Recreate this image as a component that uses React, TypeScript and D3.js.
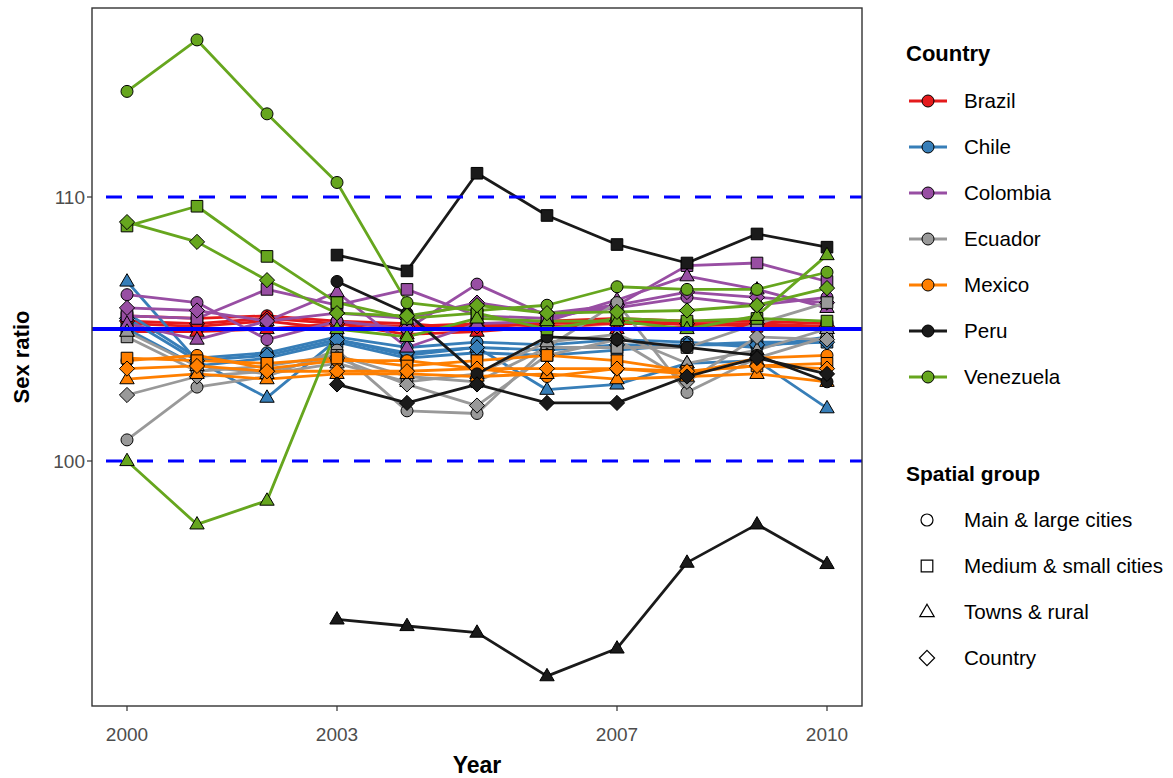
import React from 'react';
import * as d3 from 'd3';

const years = [2000, 2001, 2002, 2003, 2004, 2005, 2006, 2007, 2008, 2009, 2010];
const countries = ['Brazil', 'Chile', 'Colombia', 'Ecuador', 'Mexico', 'Peru', 'Venezuela'];
const countryColors = ['#E41A1C', '#377EB8', '#984EA3', '#999999', '#FF7F00', '#1A1A1A', '#66A61E'];
const groups = ['Main & large cities', 'Medium & small cities', 'Towns & rural', 'Country'];
const groupShapes = ['circle', 'square', 'triangle', 'diamond'];
const xTicks = [2000, 2003, 2007, 2010];
const yTicks = [100, 110];
const dashedRefs = [100, 110];
const solidRef = 105;

type V = number | null;
const N = null;

// Brazil
const brazilMain: V[] = [105.5, 105.4, 105.5, 105.3, 105.2, 105.0, 105.3, 105.4, 105.3, 105.3, 105.2];
const brazilMedium: V[] = [105.2, 105.1, 105.3, 105.0, 105.1, 105.2, 105.1, 105.2, 105.2, 105.1, 105.1];
const brazilTowns: V[] = [104.9, 104.9, 105.0, 105.2, 104.8, 104.9, 105.1, 105.0, 105.1, 105.2, 105.0];
const brazilCountry: V[] = [105.3, 105.2, 105.4, 105.2, 105.1, 105.1, 105.2, 105.3, 105.2, 105.2, 105.1];
// Chile
const chileMain: V[] = [105.6, 103.9, 104.1, 104.7, 104.3, 104.5, 104.4, 104.6, 104.5, 104.3, 104.7];
const chileMedium: V[] = [105.0, 103.6, 103.9, 104.5, 103.9, 104.1, 104.0, 104.2, 104.4, 104.5, 104.5];
const chileTowns: V[] = [106.8, 103.8, 102.4, 104.6, 104.0, 104.3, 102.7, 102.9, 103.7, 103.8, 102.0];
const chileCountry: V[] = [105.4, 103.8, 104.0, 104.6, 104.1, 104.3, 104.2, 104.4, 104.4, 104.4, 104.5];
// Colombia
const colombiaMain: V[] = [106.3, 106.0, 104.6, 105.3, 105.0, 106.7, 105.5, 105.8, 106.2, 105.9, 106.2];
const colombiaMedium: V[] = [105.5, 105.4, 106.5, 105.9, 106.5, 105.5, 105.4, 105.9, 107.4, 107.5, 106.8];
const colombiaTowns: V[] = [105.2, 104.6, 105.3, 106.4, 104.3, 105.2, 105.3, 106.1, 107.0, 106.5, 105.8];
const colombiaCountry: V[] = [105.8, 105.7, 105.3, 105.6, 105.4, 106.0, 105.6, 105.9, 106.4, 106.2, 106.0];
// Ecuador
const ecuadorMain: V[] = [100.8, 102.8, 103.2, 104.2, 101.9, 101.8, 104.3, 106.0, 102.6, 103.9, 104.7];
const ecuadorMedium: V[] = [104.7, 103.4, 103.6, 104.0, 103.2, 103.0, 104.3, 104.3, 104.3, 105.2, 106.0];
const ecuadorTowns: V[] = [104.9, 103.6, 103.3, 103.7, 103.0, 103.3, 104.5, 104.8, 103.7, 104.2, 105.0];
const ecuadorCountry: V[] = [102.5, 103.2, 103.4, 103.9, 102.9, 102.1, 104.0, 104.6, 103.0, 104.7, 104.6];
// Mexico
const mexicoMain: V[] = [103.8, 104.0, 103.5, 103.8, 103.8, 103.5, 103.2, 103.5, 103.3, 103.9, 104.0];
const mexicoMedium: V[] = [103.9, 103.8, 103.7, 103.9, 103.6, 103.8, 104.0, 103.8, 103.4, 103.6, 103.7];
const mexicoTowns: V[] = [103.1, 103.3, 103.1, 103.3, 103.3, 103.2, 103.3, 103.1, 103.2, 103.3, 103.0];
const mexicoCountry: V[] = [103.5, 103.6, 103.4, 103.4, 103.4, 103.5, 103.5, 103.5, 103.4, 103.6, 103.5];
// Peru
const peruMain: V[] = [N, N, N, 106.8, 105.6, 103.3, 104.7, 104.6, 104.3, 104.0, 103.0];
const peruMedium: V[] = [N, N, N, 107.8, 107.2, 110.9, 109.3, 108.2, 107.5, 108.6, 108.1];
const peruTowns: V[] = [N, N, N, 94.0, 93.75, 93.5, 91.85, 92.9, 96.15, 97.6, 96.1];
const peruCountry: V[] = [N, N, N, 102.9, 102.2, 102.9, 102.2, 102.2, 103.2, 103.9, 103.3];
// Venezuela
const venezuelaMain: V[] = [114.0, 115.95, 113.15, 110.55, 106.0, 105.7, 105.9, 106.6, 106.5, 106.5, 107.15];
const venezuelaMedium: V[] = [108.9, 109.65, 107.75, 106.0, 105.4, 105.6, 105.0, 105.4, 105.3, 105.4, 105.3];
const venezuelaTowns: V[] = [100.0, 97.6, 98.5, 105.0, 104.7, 105.4, 105.3, 105.3, 105.0, 105.5, 107.8];
const venezuelaCountry: V[] = [109.05, 108.3, 106.85, 105.6, 105.5, 105.9, 105.6, 105.65, 105.7, 105.9, 106.55];

const seriesByCountry: V[][][] = [
  [brazilMain, brazilMedium, brazilTowns, brazilCountry],
  [chileMain, chileMedium, chileTowns, chileCountry],
  [colombiaMain, colombiaMedium, colombiaTowns, colombiaCountry],
  [ecuadorMain, ecuadorMedium, ecuadorTowns, ecuadorCountry],
  [mexicoMain, mexicoMedium, mexicoTowns, mexicoCountry],
  [peruMain, peruMedium, peruTowns, peruCountry],
  [venezuelaMain, venezuelaMedium, venezuelaTowns, venezuelaCountry],
];

const W = 1173;
const H = 778;
const P = { left: 92, right: 862, top: 8, bottom: 706 };
const FONT = '"Liberation Sans", Arial, sans-serif';

const x = d3.scaleLinear().domain([1999.5, 2010.5]).range([P.left, P.right]);
const y = d3.scaleLinear().domain([100, 110]).range([461, 197]);

function shapePath(shape: string, s = 1): string {
  if (shape === 'circle') {
    const r = 6 * s;
    return `M${-r},0A${r},${r} 0 1,0 ${r},0A${r},${r} 0 1,0 ${-r},0Z`;
  }
  if (shape === 'square') {
    const h = 5.8 * s;
    return `M${-h},${-h}L${h},${-h}L${h},${h}L${-h},${h}Z`;
  }
  if (shape === 'triangle') {
    return `M0,${-7.8 * s}L${7.2 * s},${4.6 * s}L${-7.2 * s},${4.6 * s}Z`;
  }
  const d = 7.6 * s;
  return `M0,${-d}L${d},0L0,${d}L${-d},0Z`;
}

export default function App() {
  const line = d3
    .line<V>()
    .defined((d) => d !== null)
    .x((_, i) => x(years[i]))
    .y((d) => y(d as number));

  const lines: React.ReactNode[] = [];
  const points: React.ReactNode[] = [];
  seriesByCountry.forEach((gs, ci) => {
    gs.forEach((vals, gi) => {
      lines.push(
        <path
          key={`l-${ci}-${gi}`}
          d={line(vals) || ''}
          fill="none"
          stroke={countryColors[ci]}
          strokeWidth={2.8}
          strokeLinejoin="round"
        />
      );
      vals.forEach((v, i) => {
        if (v === null) return;
        points.push(
          <path
            key={`p-${ci}-${gi}-${i}`}
            d={shapePath(groupShapes[gi])}
            transform={`translate(${x(years[i])},${y(v)})`}
            fill={countryColors[ci]}
            stroke="#000"
            strokeWidth={1}
          />
        );
      });
    });
  });

  return (
    <svg
      width={W}
      height={H}
      style={{ position: 'absolute', left: 0, top: 0, background: '#fff' }}
      fontFamily={FONT}
    >
      <rect x={0} y={0} width={W} height={H} fill="#fff" />
      <defs>
        <clipPath id="panel">
          <rect x={P.left} y={P.top} width={P.right - P.left} height={P.bottom - P.top} />
        </clipPath>
      </defs>
      <g clipPath="url(#panel)">
        {lines}
        {points}
        {dashedRefs.map((r) => (
          <line
            key={`d-${r}`}
            x1={P.left}
            x2={P.right}
            y1={y(r)}
            y2={y(r)}
            stroke="#0000FF"
            strokeWidth={3}
            strokeDasharray="16 15"
            strokeDashoffset={-14}
          />
        ))}
        <line x1={P.left} x2={P.right} y1={y(solidRef)} y2={y(solidRef)} stroke="#0000FF" strokeWidth={4} />
      </g>
      <rect
        x={P.left}
        y={P.top}
        width={P.right - P.left}
        height={P.bottom - P.top}
        fill="none"
        stroke="#333333"
        strokeWidth={1.4}
      />
      {/* x axis */}
      {xTicks.map((t) => (
        <g key={`xt-${t}`}>
          <line x1={x(t)} x2={x(t)} y1={P.bottom} y2={P.bottom + 5} stroke="#333" strokeWidth={1.2} />
          <text x={x(t)} y={741} textAnchor="middle" fontSize={19} fill="#4D4D4D">
            {t}
          </text>
        </g>
      ))}
      {yTicks.map((t) => (
        <g key={`yt-${t}`}>
          <line x1={P.left - 5} x2={P.left} y1={y(t)} y2={y(t)} stroke="#333" strokeWidth={1.2} />
          <text x={P.left - 7} y={y(t) + 7} textAnchor="end" fontSize={19} fill="#4D4D4D">
            {t}
          </text>
        </g>
      ))}
      <text x={(P.left + P.right) / 2} y={773} textAnchor="middle" fontSize={23} fontWeight="bold" fill="#000">
        Year
      </text>
      <text
        transform={`translate(29,${(P.top + P.bottom) / 2}) rotate(-90)`}
        textAnchor="middle"
        fontSize={22}
        fontWeight="bold"
        fill="#000"
      >
        Sex ratio
      </text>
      {/* legend: Country */}
      <text x={906} y={61} fontSize={22} fontWeight="bold" fill="#000">
        Country
      </text>
      {countries.map((c, i) => {
        const cy = 101 + i * 46;
        return (
          <g key={`lc-${c}`}>
            <line x1={909} x2={947} y1={cy} y2={cy} stroke={countryColors[i]} strokeWidth={2.8} />
            <path d={shapePath('circle')} transform={`translate(928,${cy})`} fill={countryColors[i]} stroke="#000" strokeWidth={1} />
            <text x={964} y={cy + 7} fontSize={20.6} fill="#000">
              {c}
            </text>
          </g>
        );
      })}
      {/* legend: Spatial group */}
      <text x={906} y={481} fontSize={21} fontWeight="bold" fill="#000">
        Spatial group
      </text>
      {groups.map((g, i) => {
        const cy = 520 + i * 46;
        return (
          <g key={`lg-${g}`}>
            <path d={shapePath(groupShapes[i])} transform={`translate(927,${cy})`} fill="#fff" stroke="#000" strokeWidth={1.2} />
            <text x={964} y={cy + 7} fontSize={20.6} fill="#000">
              {g}
            </text>
          </g>
        );
      })}
    </svg>
  );
}
